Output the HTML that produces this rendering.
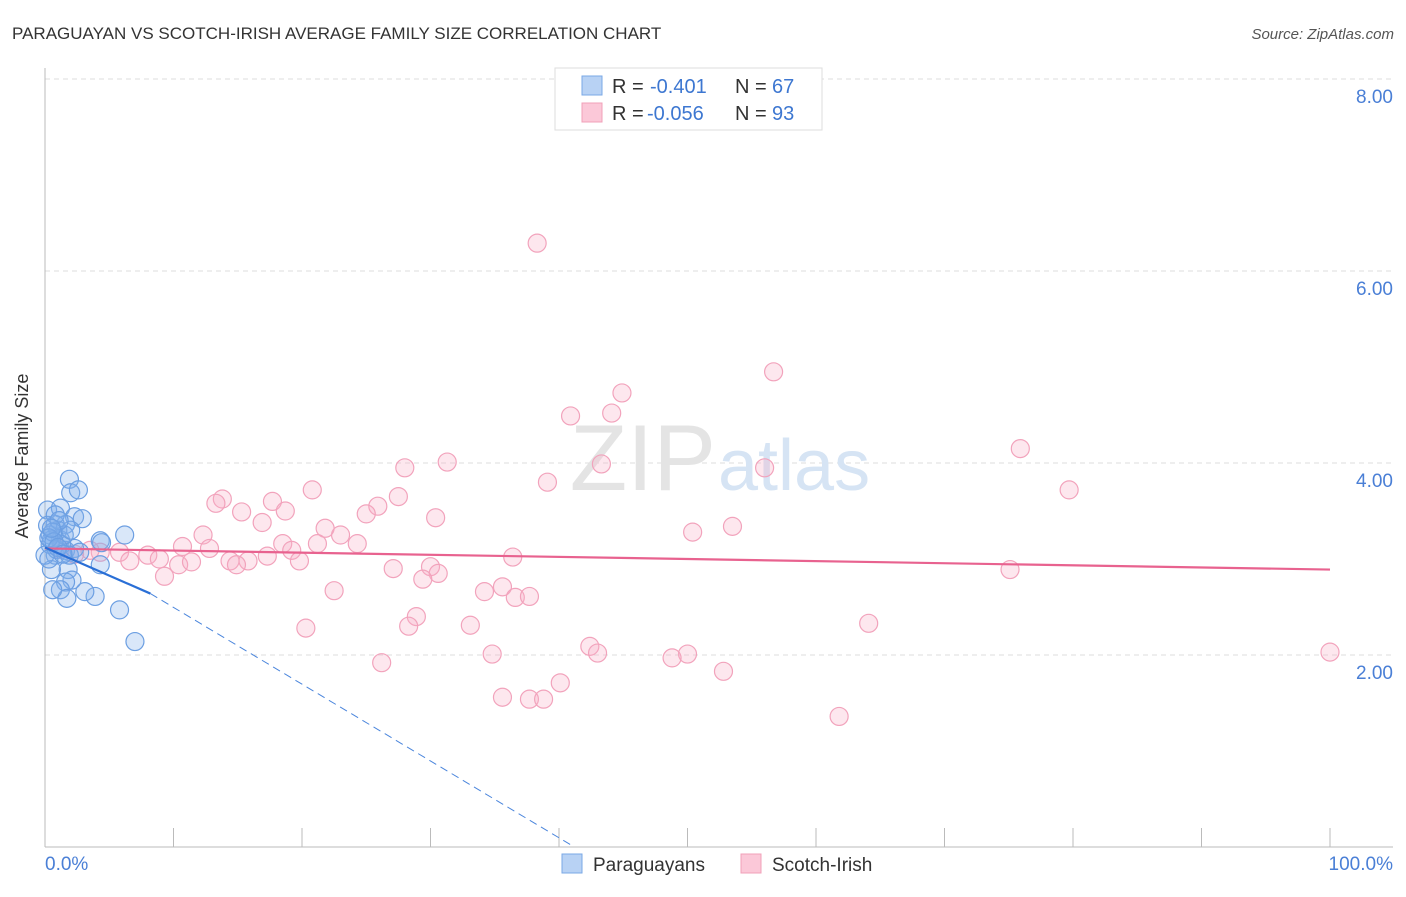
<!DOCTYPE html>
<html><head><meta charset="utf-8"><style>
body{margin:0;background:#fff;font-family:"Liberation Sans",sans-serif;}
svg text{font-family:"Liberation Sans",sans-serif;}
</style></head><body>
<svg width="1406" height="892">
<text x="12" y="39" font-size="17" fill="#333">PARAGUAYAN VS SCOTCH-IRISH AVERAGE FAMILY SIZE CORRELATION CHART</text>
<text x="1394" y="39" font-size="15" fill="#555" font-style="italic" text-anchor="end">Source: ZipAtlas.com</text>
<g id="grid"></g>
<text x="716" y="490" font-size="94" fill="#e4e4e4" text-anchor="end" font-family="Liberation Serif">ZIP</text>
<text x="718" y="490" font-size="72" fill="#d6e4f4">atlas</text>
<text x="28" y="456" font-size="18" fill="#333" text-anchor="middle" transform="rotate(-90 28 456)">Average Family Size</text>
<g id="pts"></g>
<g id="lines"></g>
<g>
<rect x="555" y="68" width="267" height="62" fill="#fff" stroke="#ddd"/>
<rect x="582" y="76" width="20" height="19" fill="#b8d2f4" stroke="#7aa8e6"/>
<rect x="582" y="103" width="20" height="19" fill="#fbc8d8" stroke="#f0a0b8"/>
<text x="612" y="93" font-size="20" fill="#333">R = </text><text x="650" y="93" font-size="20" fill="#3d77d1">-0.401</text>
<text x="735" y="93" font-size="20" fill="#333">N = </text><text x="772" y="93" font-size="20" fill="#3d77d1">67</text>
<text x="612" y="120" font-size="20" fill="#333">R = </text><text x="647" y="120" font-size="20" fill="#3d77d1">-0.056</text>
<text x="735" y="120" font-size="20" fill="#333">N = </text><text x="772" y="120" font-size="20" fill="#3d77d1">93</text>
</g>
<text x="45" y="870" font-size="19" fill="#4a7fd6">0.0%</text>
<text x="1393" y="870" font-size="19" fill="#4a7fd6" text-anchor="end">100.0%</text>
<g>
<rect x="562" y="854" width="20" height="19" fill="#b8d2f4" stroke="#7aa8e6"/>
<text x="593" y="871" font-size="19" fill="#333">Paraguayans</text>
<rect x="741" y="854" width="20" height="19" fill="#fbc8d8" stroke="#f0a0b8"/>
<text x="772" y="871" font-size="19" fill="#333">Scotch-Irish</text>
</g>
</svg>
<script>
const yTicks=[2,4,6,8];
const yTickLabels=["2.00","4.00","6.00","8.00"];
const blueX=[1.9,2.0,2.6,0.2,1.2,2.3,2.9,1.6,0.8,6.2,4.3,4.4,1.2,0.4,0.8,1.6,2.3,1.8,0.5,2.1,1.6,1.2,1.7,3.9,3.1,5.8,7.0,0.6,4.3,0,0.4,1.0,1.3,1.9,2.7,0.2,0.8,0.5,0.9,1.5,0.3,2.0,1.1,0.6,0.3,0.7,1.0,0.5,1.4];
const blueY=[3.83,3.69,3.72,3.51,3.53,3.44,3.42,3.36,3.36,3.25,3.19,3.17,3.2,3.15,3.04,3.09,3.11,2.89,2.89,2.78,2.76,2.68,2.59,2.61,2.66,2.47,2.14,2.68,2.94,3.04,3.25,3.3,3.15,3.04,3.07,3.35,3.46,3.2,3.1,3.25,3.0,3.3,3.4,3.28,3.22,3.18,3.12,3.32,3.05];
const pinkX=[38.3,56.7,44.9,40.9,44.1,75.9,31.3,28.0,43.3,56.0,39.1,79.7,20.8,27.5,13.8,13.3,17.7,25.9,25.0,15.3,30.4,18.7,16.9,21.8,12.3,23.0,50.4,53.5,24.3,21.2,18.5,10.7,12.8,19.2,36.4,17.3,5.8,8.0,8.9,10.4,11.4,14.4,15.8,14.9,19.8,27.1,30.0,30.6,29.4,9.3,75.1,35.6,34.2,36.6,37.7,22.5,28.9,28.3,33.1,20.3,64.1,42.4,43.0,34.8,50.0,48.8,26.2,52.8,40.1,35.6,37.7,38.8,61.8,100,4.3,6.6,3.5,2.3,1.2];
const pinkY=[6.29,4.95,4.73,4.49,4.52,4.15,4.01,3.95,3.99,3.95,3.80,3.72,3.72,3.65,3.625,3.58,3.60,3.55,3.47,3.49,3.43,3.50,3.38,3.32,3.25,3.25,3.28,3.34,3.16,3.16,3.16,3.13,3.11,3.09,3.02,3.03,3.07,3.04,3.0,2.94,2.97,2.98,2.98,2.94,2.98,2.9,2.92,2.85,2.79,2.82,2.89,2.71,2.66,2.6,2.61,2.67,2.4,2.3,2.31,2.28,2.33,2.09,2.02,2.01,2.01,1.97,1.92,1.83,1.71,1.56,1.54,1.54,1.36,2.03,3.07,2.98,3.09,3.05,3.10];
const blueLine=[[0,3.12],[8.2,2.64],[41.2,0]];
const pinkLine=[[0,3.11],[100,2.89]];
const NS="http://www.w3.org/2000/svg";
const X=v=>45+v*12.85, Y=v=>847-v*96;
function mk(t,a,p){const e=document.createElementNS(NS,t);for(const k in a)e.setAttribute(k,a[k]);p.appendChild(e);return e;}
const grid=document.getElementById('grid');
yTicks.forEach((t,i)=>{
 const l=mk('line',{x1:45,x2:1393,y1:Y(t),y2:Y(t),stroke:'#ddd','stroke-dasharray':'5,4'},grid);
 
 
 const tx=mk('text',{x:1393,y:Y(t)+24,'font-size':19,fill:'#4a7fd6','text-anchor':'end'},grid);
 tx.textContent=yTickLabels[i];
 
 
});
const ax=mk('line',{x1:45,x2:45,y1:68,y2:847,stroke:'#bbb'},grid);


const bx=mk('line',{x1:45,x2:1393,y1:847,y2:847,stroke:'#bbb'},grid);


for(let i=0;i<=10;i++){const t=mk('line',{x1:X(i*10),x2:X(i*10),y1:828,y2:847,stroke:'#bbb'},grid);
 
 }
const pts=document.getElementById('pts');
pinkX.forEach((x,i)=>{const c=mk('circle',{cx:X(x),cy:Y(pinkY[i]),r:9,fill:'rgba(247,175,198,0.3)',stroke:'#f2a3bc','stroke-width':1.2},pts);
 
 });
blueX.forEach((x,i)=>{const c=mk('circle',{cx:X(x),cy:Y(blueY[i]),r:9,fill:'rgba(130,175,235,0.3)',stroke:'#6c9fe2','stroke-width':1.2},pts);
 
 });
const lg=document.getElementById('lines');
const pl=mk('line',{x1:X(pinkLine[0][0]),y1:Y(pinkLine[0][1]),x2:X(pinkLine[1][0]),y2:Y(pinkLine[1][1]),stroke:'#e8628f','stroke-width':2.2},lg);


const b1=mk('line',{x1:X(blueLine[0][0]),y1:Y(blueLine[0][1]),x2:X(blueLine[1][0]),y2:Y(blueLine[1][1]),stroke:'#2a6fd6','stroke-width':2.2},lg);


const b2=mk('line',{x1:X(blueLine[1][0]),y1:Y(blueLine[1][1]),x2:X(blueLine[2][0]),y2:Y(blueLine[2][1]),stroke:'#4a85dc','stroke-width':1,'stroke-dasharray':'8,5'},lg);


</script>
</body></html>
